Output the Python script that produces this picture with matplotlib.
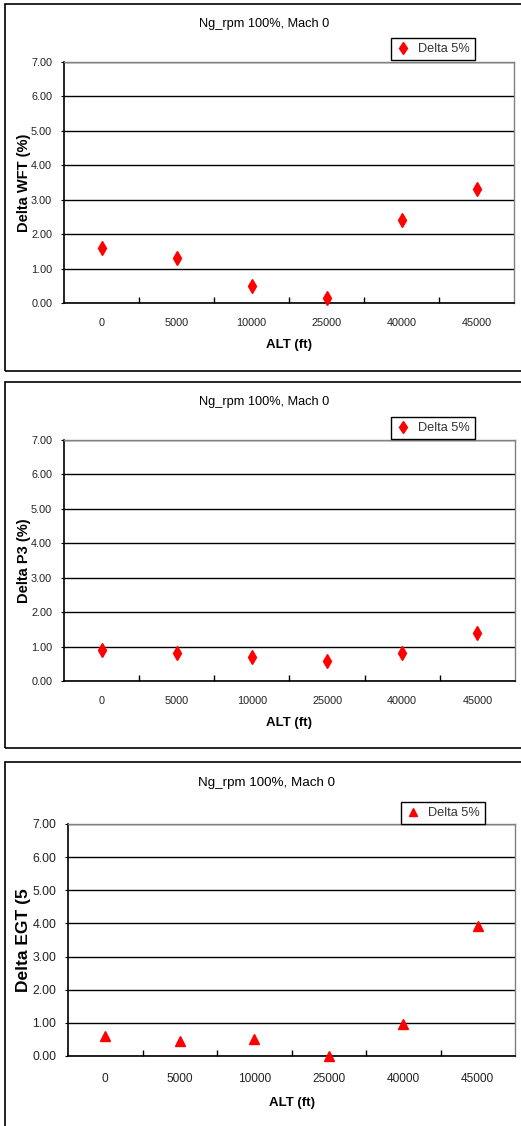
import matplotlib
matplotlib.use("Agg")
import matplotlib.pyplot as plt
from matplotlib.patches import Rectangle
from matplotlib.ticker import FixedLocator, FormatStrFormatter

# ---- data ----
alt_labels = ["0", "5000", "10000", "25000", "40000", "45000"]
wft_delta = [1.60, 1.30, 0.50, 0.15, 2.42, 3.30]
p3_delta = [0.90, 0.80, 0.70, 0.58, 0.80, 1.38]
egt_delta = [0.60, 0.45, 0.52, 0.00, 0.98, 3.93]
title_text = "Ng_rpm 100%, Mach 0"
series_name = "Delta 5%"
y_labels = ["Delta WFT (%)", "Delta P3 (%)", "Delta EGT (5"]
x_label = "ALT (ft)"
y_ticks = [0, 1, 2, 3, 4, 5, 6, 7]

W, H = 521, 1126
fig = plt.figure(figsize=(W / 100, H / 100), dpi=100)
fig.patch.set_facecolor("white")

SANS = ["Liberation Sans", "DejaVu Sans"]


def fx(px):
    return px / W


def fy(py):
    return 1 - py / H


panels = [
    dict(vals=wft_delta, ylabel=y_labels[0], marker="d", ax=(64, 514, 62, 303),
         frame=(5, 4, 371), title=(264, 24), leg=(391, 38), xl=(289, 345), yl=(24, 10.5),
         tick_fs=7.8, xtick_fs=7.8, title_fs=9.2, ms=7.5),
    dict(vals=p3_delta, ylabel=y_labels[1], marker="d", ax=(64, 515, 440, 681),
         frame=(5, 382, 748), title=(264, 402), leg=(391, 417), xl=(289, 723), yl=(24, 10.5),
         tick_fs=7.8, xtick_fs=7.8, title_fs=9.2, ms=7.5),
    dict(vals=egt_delta, ylabel=y_labels[2], marker="^", ax=(68, 515, 824, 1056),
         frame=(5, 762, 1140), title=(266, 783), leg=(401, 802), xl=(292, 1103), yl=(24, 12.5),
         tick_fs=8.8, xtick_fs=8.6, title_fs=9.6, ms=6.8),
]

for p in panels:
    # panel frame
    fl, ft, fb = p["frame"]
    fig.add_artist(Rectangle((fx(fl), fy(fb)), 1.2, fy(ft) - fy(fb), transform=fig.transFigure,
                             fill=False, edgecolor="black", lw=1.2, clip_on=False))

    l, r, t, b = p["ax"]
    ax = fig.add_axes([fx(l), fy(b), fx(r) - fx(l), fy(t) - fy(b)])
    x = list(range(len(alt_labels)))
    ax.plot(x, p["vals"], linestyle="none", marker=p["marker"], color="#ff0000",
            markersize=p["ms"], markeredgecolor="#ff0000", label=series_name, zorder=5,
            clip_on=False)
    ax.set_xlim(-0.5, len(alt_labels) - 0.5)
    ax.set_ylim(0, 7)
    ax.set_yticks(y_ticks)
    ax.yaxis.set_major_formatter(FormatStrFormatter("%.2f"))
    ax.grid(axis="y", color="black", lw=1.0)
    ax.set_axisbelow(True)
    for s in ["top", "right"]:
        ax.spines[s].set_color("#808080")
        ax.spines[s].set_linewidth(1.0)
    for s in ["left", "bottom"]:
        ax.spines[s].set_color("black")
        ax.spines[s].set_linewidth(1.2)
    ax.set_xticks(x)
    ax.set_xticklabels(alt_labels, family=SANS, fontsize=p["xtick_fs"], color="#222222")
    ax.xaxis.set_minor_locator(FixedLocator([i + 0.5 for i in range(len(alt_labels) - 1)]))
    ax.tick_params(axis="x", which="major", length=0, pad=11 if p["marker"] == "d" else 12)
    ax.tick_params(axis="x", which="minor", direction="in", length=4, width=1, color="black")
    ax.tick_params(axis="y", direction="out", length=2, width=0.8, pad=6.5, color="black")
    for lab in ax.get_yticklabels():
        lab.set_family(SANS)
        lab.set_fontsize(p["tick_fs"])
        lab.set_color("#222222")

    # legend
    lx, ly = p["leg"]
    leg = ax.legend(loc="upper left", bbox_to_anchor=(fx(lx), fy(ly)), bbox_transform=fig.transFigure,
                    borderaxespad=0, frameon=True, fancybox=False, framealpha=1, edgecolor="black",
                    prop={"family": SANS, "size": 9.2}, handlelength=1.0, handletextpad=0.7,
                    borderpad=0.4, numpoints=1, markerscale=0.8)
    leg.get_frame().set_linewidth(1.0)
    for txt in leg.get_texts():
        txt.set_color("#333333")

    # title
    tx, ty = p["title"]
    fig.text(fx(tx), fy(ty), title_text, ha="center", va="center", family=SANS,
             fontsize=p["title_fs"], color="black")
    # x label
    xx, xy = p["xl"]
    fig.text(fx(xx), fy(xy), x_label, ha="center", va="center", family=SANS,
             fontsize=9.5, fontweight="bold", color="black")
    # y label
    yx, yfs = p["yl"]
    fig.text(fx(yx), fy((t + b) / 2), p["ylabel"], ha="center", va="center", rotation=90,
             family=SANS, fontsize=yfs, fontweight="bold", color="black")

fig.savefig("out.png", dpi=100, facecolor="white")
